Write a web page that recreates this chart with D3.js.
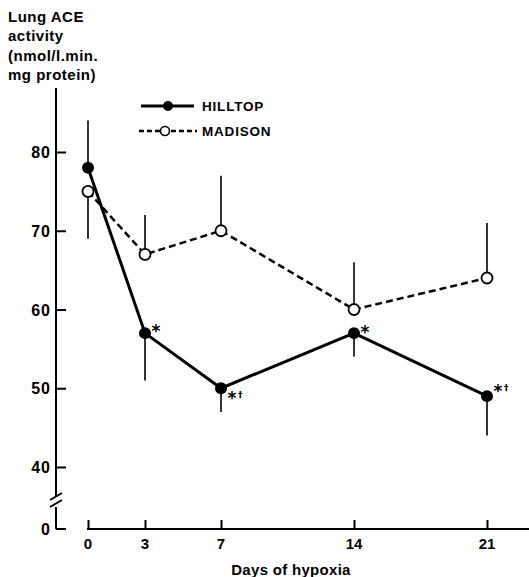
<!DOCTYPE html>
<html><head><meta charset="utf-8">
<script src="https://cdn.jsdelivr.net/npm/d3@7"></script>
<style>body{margin:0;background:#fff}svg{display:block}text{font-family:"Liberation Sans",Arial,sans-serif;font-weight:bold;fill:#000}</style>
</head><body>
<script>
const days = [0, 3, 7, 14, 21];
const hilltop = [78, 57, 50, 57, 49];
const hilltopErr = [84, 51, 47, 54, 44];
const madison = [75, 67, 70, 60, 64];
const madisonErr = [69, 72, 77, 66, 71];
const hilltopStars = ["", "*", "*", "*", "*"];
const hilltopDaggers = ["", "", "†", "", "†"];
const yTicks = [40, 50, 60, 70, 80];
const xTicks = [0, 3, 7, 14, 21];
const yTitle = ["Lung ACE", "activity", "(nmol/l.min.", "mg protein)"];

const W = 529, H = 577;
const svg = d3.select("body").append("svg").attr("width", W).attr("height", H);
const x = d3.scaleLinear().domain([0, 21]).range([88, 487]);
const y = d3.scaleLinear().domain([40, 80]).range([467, 152]);
const axisX = 56, baseY = 529;

// y axis
svg.append("line").attr("x1", axisX).attr("x2", axisX).attr("y1", 88).attr("y2", 497).attr("stroke", "#000").attr("stroke-width", 2);
svg.append("line").attr("x1", axisX).attr("x2", axisX).attr("y1", 507).attr("y2", baseY).attr("stroke", "#000").attr("stroke-width", 2);
svg.append("line").attr("x1", axisX).attr("x2", axisX + 10).attr("y1", baseY).attr("y2", baseY).attr("stroke", "#000").attr("stroke-width", 2);
// break marks
[0, 7].forEach(d => svg.append("line").attr("x1", axisX - 6).attr("x2", axisX + 6).attr("y1", 500 + d).attr("y2", 493 + d).attr("stroke", "#000").attr("stroke-width", 2));
svg.append("text").attr("x", 50).attr("y", baseY + 6).attr("text-anchor", "end").attr("font-size", 16).text("0");

const yAxis = d3.axisRight(y).tickValues(yTicks).tickSize(10).tickFormat("");
const gy = svg.append("g").attr("transform", `translate(${axisX},0)`).call(yAxis);
gy.select(".domain").remove();
gy.selectAll("line").attr("stroke-width", 2);
yTicks.forEach(t => svg.append("text").attr("x", 51).attr("y", y(t) + 6).attr("text-anchor", "end").attr("font-size", 16).attr("letter-spacing", 1).text(t));

// x axis
svg.append("line").attr("x1", 87).attr("x2", W).attr("y1", baseY).attr("y2", baseY).attr("stroke", "#000").attr("stroke-width", 2);
const xAxis = d3.axisTop(x).tickValues(xTicks).tickSize(9).tickFormat("");
const gx = svg.append("g").attr("transform", `translate(0,${baseY})`).call(xAxis);
gx.select(".domain").remove();
gx.selectAll("line").attr("stroke-width", 2);
xTicks.forEach(t => svg.append("text").attr("x", x(t)).attr("y", 549).attr("text-anchor", "middle").attr("font-size", 15).text(t));
svg.append("text").attr("x", 291).attr("y", 575).attr("text-anchor", "middle").attr("font-size", 15).attr("letter-spacing", 0.3).text("Days of hypoxia");

// y title
yTitle.forEach((s, i) => svg.append("text").attr("x", 8).attr("y", 22 + i * 19.4).attr("font-size", 15).attr("letter-spacing", 0.5).text(s));

// error bars
days.forEach((d, i) => {
  svg.append("line").attr("x1", x(d)).attr("x2", x(d)).attr("y1", y(hilltop[i])).attr("y2", y(hilltopErr[i])).attr("stroke", "#000").attr("stroke-width", 1.6);
  svg.append("line").attr("x1", x(d)).attr("x2", x(d)).attr("y1", y(madison[i])).attr("y2", y(madisonErr[i])).attr("stroke", "#000").attr("stroke-width", 1.6);
});

const line = d3.line().x((d, i) => x(days[i])).y(d => y(d));
svg.append("path").attr("d", line(madison)).attr("fill", "none").attr("stroke", "#000").attr("stroke-width", 2.5).attr("stroke-dasharray", "7,4");
svg.append("path").attr("d", line(hilltop)).attr("fill", "none").attr("stroke", "#000").attr("stroke-width", 3);

days.forEach((d, i) => {
  svg.append("circle").attr("cx", x(d)).attr("cy", y(madison[i])).attr("r", 5.5).attr("fill", "#fff").attr("stroke", "#000").attr("stroke-width", 1.8);
});
days.forEach((d, i) => {
  svg.append("circle").attr("cx", x(d)).attr("cy", y(hilltop[i])).attr("r", 6).attr("fill", "#000");
});
// significance marks (center offsets of the asterisk)
const starDy = [0, -6, 6, -5, -9];
hilltopStars.forEach((m, i) => {
  if (!m) return;
  const cx = x(days[i]) + 11, cy = y(hilltop[i]) + starDy[i];
  svg.append("text").attr("x", cx).attr("y", cy + 10).attr("text-anchor", "middle")
    .style("font-family", "'DejaVu Sans', sans-serif").attr("font-size", 17).text(m);
  if (hilltopDaggers[i]) {
    svg.append("text").attr("x", cx + 6).attr("y", cy + 4).style("font-family", "'DejaVu Sans', sans-serif")
      .attr("font-size", 9).attr("fill", "#000").style("fill", "#000").text(hilltopDaggers[i]);
  }
});

// legend
const lg = svg.append("g");
lg.append("line").attr("x1", 141).attr("x2", 194).attr("y1", 106).attr("y2", 106).attr("stroke", "#000").attr("stroke-width", 3);
lg.append("circle").attr("cx", 168).attr("cy", 106).attr("r", 5).attr("fill", "#000");
lg.append("text").attr("x", 202).attr("y", 111).attr("font-size", 13.5).attr("letter-spacing", 0.8).text("HILLTOP");
lg.append("line").attr("x1", 139).attr("x2", 197).attr("y1", 131).attr("y2", 131).attr("stroke", "#000").attr("stroke-width", 2.5).attr("stroke-dasharray", "5,3");
lg.append("circle").attr("cx", 165).attr("cy", 131).attr("r", 4.5).attr("fill", "#fff").attr("stroke", "#000").attr("stroke-width", 1.6);
lg.append("text").attr("x", 202).attr("y", 136).attr("font-size", 13.5).attr("letter-spacing", 0.8).text("MADISON");
</script>
</body></html>
